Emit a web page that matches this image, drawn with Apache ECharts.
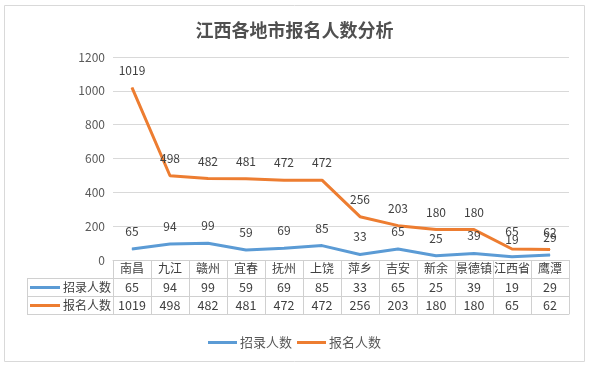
<!DOCTYPE html>
<html><head><meta charset="utf-8">
<script src="https://cdn.jsdelivr.net/npm/echarts@6/dist/echarts.min.js"></script>
<style>html,body{margin:0;padding:0;background:#fff}#c{width:589px;height:367px}</style>
</head><body><div id="c"></div>
<script>
var categories = ['南昌','九江','赣州','宜春','抚州','上饶','萍乡','吉安','新余','景德镇','江西省','鹰潭'];
var zhaolu = [65,94,99,59,69,85,33,65,25,39,19,29];
var baoming = [1019,498,482,481,472,472,256,203,180,180,65,62];
var seriesNames = ['招录人数','报名人数'];
var yTicks = [0,200,400,600,800,1000,1200];

var BLUE = '#5B9BD5', ORANGE = '#ED7D31', LINE = '#d0d0d0', TXT = '#404040';
var FONT = '"Noto Sans CJK SC", "Noto Sans", sans-serif';
var chart = echarts.init(document.getElementById('c'), null, {renderer:'canvas'});

function tableAxis(offset, values, showLabel, showTick){
  return {
    type:'category', data: categories, position:'bottom', offset: offset, boundaryGap:true,
    axisLine:{show:true, lineStyle:{color:LINE, width:1}},
    axisTick:{show:!!showTick, interval:0, length:54, lineStyle:{color:LINE}},
    axisLabel:{show:showLabel, interval:0, margin: values ? 3 : 2.5, color:TXT, fontFamily:FONT, fontSize: values ? 12.5 : 12,
      formatter: function(v, i){ return values ? String(values[i]) : v; }},
    splitLine:{show:false}
  };
}

function lineSeries(name, data, color){
  return {name:name, type:'line', data:data, xAxisIndex:0, symbol:'circle', symbolSize:1, showSymbol:true,
    smooth:false, lineStyle:{color:color, width:3}, itemStyle:{color:color},
    label:{show:true, position:'top', distance:11, color:TXT, fontSize:12, fontFamily:FONT},
    labelLayout:{hideOverlap:false}};
}

chart.setOption({
  animation:false,
  textStyle:{fontFamily:FONT},
  title:{text:'江西各地市报名人数分析', left:'center', top:16,
    textStyle:{fontSize:18, fontWeight:'bold', color:'#505050', fontFamily:FONT}},
  grid:{left:113, right:20, top:57, bottom:107},
  xAxis:[
    tableAxis(0, null, true, true),
    tableAxis(18, zhaolu, true, false),
    tableAxis(36, baoming, true, false),
    tableAxis(54, null, false, false)
  ],
  yAxis:{type:'value', min:yTicks[0], max:yTicks[yTicks.length-1], interval:200,
    axisLine:{show:false}, axisTick:{show:false},
    axisLabel:{color:'#595959', fontSize:12, margin:8, fontFamily:FONT, formatter:function(v){return String(v);}},
    splitLine:{lineStyle:{color:'#d9d9d9'}}},
  legend:{bottom:13, left:'center', itemWidth:29, itemHeight:3, itemGap:5, icon:'rect',
    textStyle:{color:'#595959', fontSize:13, fontFamily:FONT, padding:[0,0,0,-2]},
    data:seriesNames},
  series:[
    lineSeries(seriesNames[0], zhaolu, BLUE),
    lineSeries(seriesNames[1], baoming, ORANGE)
  ],
  graphic:[
    {type:'rect', shape:{x:4.5, y:5.5, width:580, height:356}, style:{fill:null, stroke:'#d9d9d9', lineWidth:1}, silent:true},
    {type:'line', shape:{x1:27, y1:278.5, x2:113, y2:278.5}, style:{stroke:LINE, lineWidth:1}},
    {type:'line', shape:{x1:27, y1:296.5, x2:113, y2:296.5}, style:{stroke:LINE, lineWidth:1}},
    {type:'line', shape:{x1:27, y1:314.5, x2:113, y2:314.5}, style:{stroke:LINE, lineWidth:1}},
    {type:'line', shape:{x1:27.5, y1:278, x2:27.5, y2:315}, style:{stroke:LINE, lineWidth:1}},
    {type:'line', shape:{x1:30, y1:287.5, x2:60, y2:287.5}, style:{stroke:BLUE, lineWidth:3}},
    {type:'line', shape:{x1:30, y1:305.5, x2:60, y2:305.5}, style:{stroke:ORANGE, lineWidth:3}},
    {type:'text', x:63, y:287.5, style:{text:seriesNames[0], fill:TXT, fontSize:12, fontFamily:FONT, textVerticalAlign:'middle'}},
    {type:'text', x:63, y:305.5, style:{text:seriesNames[1], fill:TXT, fontSize:12, fontFamily:FONT, textVerticalAlign:'middle'}}
  ]
});
</script></body></html>
